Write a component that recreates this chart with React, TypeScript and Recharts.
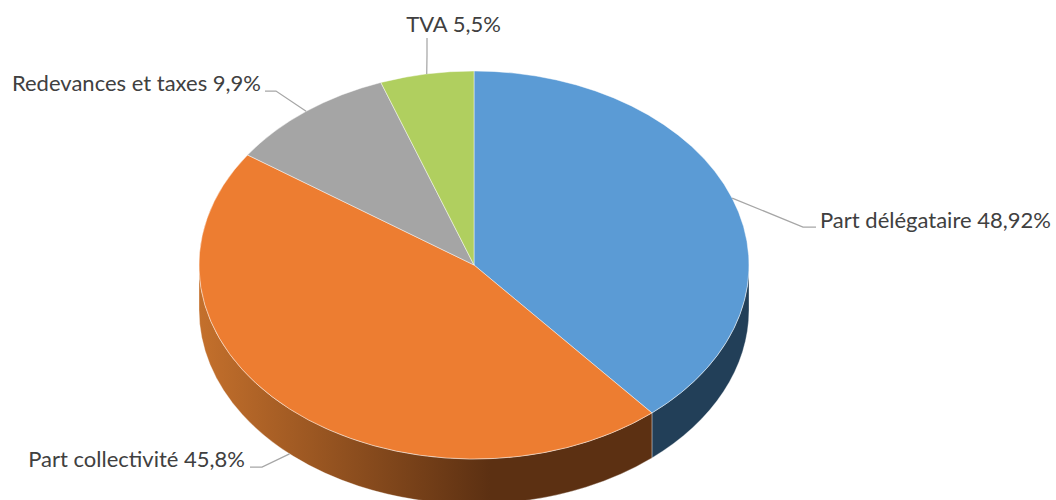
import { PieChart, Pie } from "recharts";

const names = ["Part délégataire", "Part collectivité", "Redevances et taxes", "TVA"];
// slice sizes as drawn; the printed labels don't add up to 100
const sliceValues = [38.8, 45.8, 9.9, 5.5];
const printedValues = ["48,92%", "45,8%", "9,9%", "5,5%"];
const topColors = ["#5B9BD5", "#ED7D31", "#A5A5A5", "#B0CF5F"];
const wallColors = ["#223F58", "url(#orangeWall)", "#636363", "#6A7C39"];

const data = names.map((name, i) => ({ name, value: sliceValues[i], fill: topColors[i] }));
const wallData = names.map((name, i) => ({ name, value: sliceValues[i], fill: wallColors[i] }));

const SQUASH = 194 / 275;
const DEPTH = 45;

// elbow of each leader line and where its text sits
const leaders = [
  { elbow: [803, 227], end: [816, 227], textX: 820, textY: 228, anchor: "start", drop: 0 },
  { elbow: [262, 467], end: [250, 467], textX: 245, textY: 467, anchor: "end", drop: DEPTH },
  { elbow: [276, 91], end: [265, 91], textX: 261, textY: 91, anchor: "end", drop: 0 },
  { elbow: [427, 55], end: [427, 38], textX: 453.5, textY: 32, anchor: "middle", drop: 0 },
];

const onEllipse = (cx: number, cy: number, r: number, deg: number) => {
  const a = (deg * Math.PI) / 180;
  return [cx + r * Math.cos(a), cy - r * SQUASH * Math.sin(a)];
};

function TopSlice(props: any) {
  const { cx, cy, outerRadius: r, startAngle, endAngle, fill } = props;
  const [x0, y0] = onEllipse(cx, cy, r, startAngle);
  const [x1, y1] = onEllipse(cx, cy, r, endAngle);
  const large = Math.abs(startAngle - endAngle) > 180 ? 1 : 0;
  const d = `M${cx},${cy}L${x0},${y0}A${r},${r * SQUASH} 0 ${large} 1 ${x1},${y1}Z`;
  return <path d={d} fill={fill} stroke="#fff" strokeOpacity={0.45} strokeWidth={1} />;
}

// only the part of a slice facing the viewer (angles 0 to -180) has a visible wall
function WallSlice(props: any) {
  const { cx, cy, outerRadius: r, startAngle, endAngle, fill } = props;
  const from = Math.min(startAngle, 0);
  const to = Math.max(endAngle, -180);
  if (from <= to) return null;
  const [x0, y0] = onEllipse(cx, cy, r, from);
  const [x1, y1] = onEllipse(cx, cy, r, to);
  const ry = r * SQUASH;
  const d = `M${x0},${y0}A${r},${ry} 0 0 1 ${x1},${y1}L${x1},${y1 + DEPTH}A${r},${ry} 0 0 0 ${x0},${y0 + DEPTH}Z`;
  return <path d={d} fill={fill} stroke="#fff" strokeOpacity={0.45} strokeWidth={0.75} />;
}

function SliceLabel(props: any) {
  const { cx, cy, outerRadius: r, startAngle, endAngle, index } = props;
  const l = leaders[index];
  const [sx, sy] = onEllipse(cx, cy, r, (startAngle + endAngle) / 2);
  return (
    <g>
      <polyline
        points={`${sx},${sy + l.drop} ${l.elbow.join(",")} ${l.end.join(",")}`}
        fill="none"
        stroke="#A6A6A6"
        strokeWidth={1.25}
      />
      <text x={l.textX} y={l.textY} textAnchor={l.anchor as any} fill="#404040" fontSize={22} fontFamily="Lato">
        {names[index]} {printedValues[index]}
      </text>
    </g>
  );
}

export default function App() {
  return (
    <div style={{ position: "absolute", left: 0, top: 0, width: 1056, height: 500, background: "#fff" }}>
      <PieChart width={1056} height={500} margin={{ top: 0, right: 0, bottom: 0, left: 0 }}>
        <defs>
          <linearGradient id="orangeWall" gradientUnits="userSpaceOnUse" x1="199" y1="0" x2="490" y2="0">
            <stop offset="0%" stopColor="#C4702C" />
            <stop offset="100%" stopColor="#5C3012" />
          </linearGradient>
        </defs>
        <Pie
          data={wallData}
          dataKey="value"
          cx={474}
          cy={265}
          outerRadius={275}
          startAngle={90}
          endAngle={-270}
          shape={WallSlice}
          isAnimationActive={false}
        />
        <Pie
          data={data}
          dataKey="value"
          cx={474}
          cy={265}
          outerRadius={275}
          startAngle={90}
          endAngle={-270}
          shape={TopSlice}
          label={SliceLabel}
          labelLine={false}
          isAnimationActive={false}
        />
      </PieChart>
    </div>
  );
}
